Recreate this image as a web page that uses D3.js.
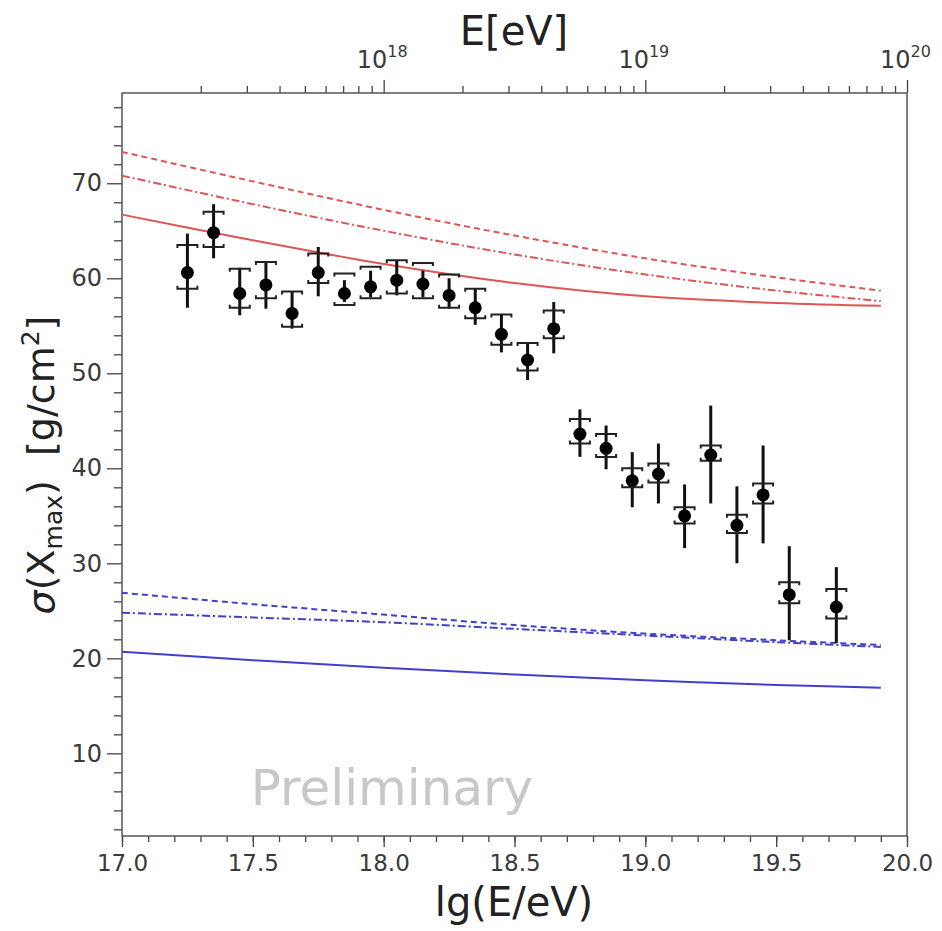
<!DOCTYPE html>
<html>
<head>
<meta charset="utf-8">
<script src="https://cdn.jsdelivr.net/npm/d3@7"></script>
<style>
  body { margin: 0; background: #fff; }
  text { font-family: "DejaVu Sans", sans-serif; }
  .tick text { fill: #3a3a3a; }
  .tick line { stroke: #444; stroke-width: 1.3; }
</style>
</head>
<body>
<div id="chart"></div>
<script>
// measured points: lg(E/eV), sigma, stat range, sys range
var lgE = [17.25, 17.35, 17.45, 17.55, 17.65, 17.75, 17.85, 17.95, 18.05, 18.15, 18.25, 18.35, 18.45,
  18.55, 18.65, 18.75, 18.85, 18.95, 19.05, 19.15, 19.25, 19.35, 19.45, 19.55, 19.73];
var sigma = [60.6, 64.8, 58.4, 59.3, 56.3, 60.6, 58.4, 59.1, 59.8, 59.4, 58.2, 56.9, 54.1,
  51.4, 54.7, 43.6, 42.1, 38.7, 39.4, 35.0, 41.4, 34.0, 37.2, 26.7, 25.4];
var statLo = [56.9, 62.1, 56.1, 56.8, 54.7, 58.1, 57.5, 58.0, 58.2, 58.0, 56.8, 55.1, 52.2,
  49.3, 52.1, 41.2, 39.9, 35.9, 36.3, 31.6, 36.3, 30.0, 32.1, 21.9, 21.6];
var statHi = [64.7, 67.8, 61.1, 61.7, 58.6, 63.3, 59.8, 60.8, 61.9, 60.8, 60.0, 58.9, 56.2,
  53.3, 57.5, 46.2, 44.5, 41.7, 42.6, 38.3, 46.6, 38.1, 42.4, 31.8, 29.6];
var sysLo = [58.9, 63.3, 56.9, 57.9, 54.9, 59.5, 57.2, 57.9, 58.4, 57.9, 56.9, 55.8, 53.0,
  50.3, 53.7, 42.6, 41.2, 38.0, 38.5, 34.2, 40.8, 33.2, 36.3, 25.8, 24.2];
var sysHi = [63.5, 67.0, 61.0, 61.7, 58.6, 62.6, 60.5, 61.2, 61.9, 61.6, 60.4, 58.9, 56.2,
  53.2, 56.6, 45.2, 43.6, 40.0, 40.5, 35.9, 42.4, 35.1, 38.4, 28.0, 27.3];

// model curves
var lgCurve = [17.0, 17.5, 18.0, 18.5, 19.0, 19.5, 19.9];
var protonSolid = [66.7, 64.0, 61.5, 59.5, 58.1, 57.4, 57.1];
var protonDashDot = [70.8, 67.8, 65.0, 62.5, 60.4, 58.7, 57.6];
var protonDashed = [73.3, 70.2, 67.2, 64.5, 62.1, 60.1, 58.7];
var ironSolid = [20.7, 19.8, 19.0, 18.3, 17.7, 17.2, 16.9];
var ironDashDot = [24.8, 24.3, 23.8, 23.1, 22.4, 21.7, 21.2];
var ironDashed = [26.9, 25.7, 24.6, 23.5, 22.6, 21.9, 21.4];

var xTicks = [17.0, 17.5, 18.0, 18.5, 19.0, 19.5, 20.0];
var yTicks = [10, 20, 30, 40, 50, 60, 70];
var eTicks = [1e18, 1e19, 1e20];
var eTickExp = ["18", "19", "20"];

var wide = 942;
var high = 931;
var plotLeft = 122, plotRight = 907, plotTop = 93, plotBottom = 836;

var svg = d3.select("#chart").append("svg")
  .attr("width", wide)
  .attr("height", high);

var xScale = d3.scaleLinear().domain([17, 20]).range([plotLeft, plotRight]);
var yScale = d3.scaleLinear().domain([1.3, 79.5]).range([plotBottom, plotTop]);
var eScale = d3.scaleLog().domain([1e17, 1e20]).range([plotLeft, plotRight]);

// bottom axis
var xMinor = d3.range(170, 201).map(function(d) { return d / 10; });
svg.append("g")
  .attr("transform", "translate(0," + plotBottom + ")")
  .call(d3.axisBottom(xScale).tickValues(xMinor).tickSize(6).tickFormat(""))
  .call(function(g) { g.select(".domain").remove(); });
svg.append("g")
  .attr("transform", "translate(0," + plotBottom + ")")
  .call(d3.axisBottom(xScale).tickValues(xTicks).tickSize(11).tickPadding(8).tickFormat(d3.format(".1f")))
  .call(function(g) {
    g.select(".domain").remove();
    g.selectAll("text").attr("font-size", 23);
  });

// left axis
var yMinor = d3.range(2, 80, 2).filter(function(d) { return d % 10 !== 0; });
svg.append("g")
  .attr("transform", "translate(" + plotLeft + ",0)")
  .call(d3.axisLeft(yScale).tickValues(yMinor).tickSize(8).tickFormat(""))
  .call(function(g) { g.select(".domain").remove(); });
svg.append("g")
  .attr("transform", "translate(" + plotLeft + ",0)")
  .call(d3.axisLeft(yScale).tickValues(yTicks).tickSize(15).tickPadding(5))
  .call(function(g) {
    g.select(".domain").remove();
    g.selectAll("text").attr("font-size", 24);
  });

// top axis (energy, log)
var eMinor = [];
[1e17, 1e18, 1e19].forEach(function(p) {
  for (var k = 2; k <= 9; k++) eMinor.push(k * p);
});
svg.append("g")
  .attr("transform", "translate(0," + plotTop + ")")
  .call(d3.axisTop(eScale).tickValues(eMinor).tickSize(7).tickFormat(""))
  .call(function(g) { g.select(".domain").remove(); });
var eAxis = svg.append("g")
  .attr("transform", "translate(0," + plotTop + ")")
  .call(d3.axisTop(eScale).tickValues(eTicks).tickSize(13).tickFormat(""))
  .call(function(g) { g.select(".domain").remove(); });
eAxis.selectAll(".tick").each(function(d, i) {
  var t = d3.select(this).append("text")
    .attr("x", -2)
    .attr("y", -25)
    .attr("text-anchor", "middle")
    .attr("font-size", 24)
    .attr("fill", "#3a3a3a");
  t.append("tspan").text("10");
  t.append("tspan").attr("dy", -11).attr("font-size", 16).text(eTickExp[i]);
});

// frame
svg.append("rect")
  .attr("x", plotLeft)
  .attr("y", plotTop)
  .attr("width", plotRight - plotLeft)
  .attr("height", plotBottom - plotTop)
  .attr("fill", "none")
  .attr("stroke", "#555")
  .attr("stroke-width", 1.5);

// model curves
var line = d3.line()
  .x(function(d) { return xScale(d[0]); })
  .y(function(d) { return yScale(d[1]); })
  .curve(d3.curveCatmullRom);

function drawCurve(vals, color, dash) {
  svg.append("path")
    .datum(lgCurve.map(function(x, i) { return [x, vals[i]]; }))
    .attr("d", line)
    .attr("fill", "none")
    .attr("stroke", color)
    .attr("stroke-width", 2)
    .attr("stroke-dasharray", dash);
}
var red = "#dd5555";
var blue = "#4040cc";
drawCurve(protonSolid, red, null);
drawCurve(protonDashDot, red, "8,3,2,3");
drawCurve(protonDashed, red, "6,4");
drawCurve(ironSolid, blue, null);
drawCurve(ironDashDot, blue, "8,3,2,3");
drawCurve(ironDashed, blue, "6,4");

// preliminary watermark
svg.append("text")
  .attr("x", 392)
  .attr("y", 805)
  .attr("text-anchor", "middle")
  .attr("font-size", 50)
  .attr("fill", "#c8c8c8")
  .text("Preliminary");

// data points
var pts = svg.append("g").selectAll("g").data(lgE).enter().append("g");

pts.append("line")
  .attr("x1", function(d) { return xScale(d); })
  .attr("x2", function(d) { return xScale(d); })
  .attr("y1", function(d, i) { return yScale(statLo[i]); })
  .attr("y2", function(d, i) { return yScale(statHi[i]); })
  .attr("stroke", "#111")
  .attr("stroke-width", 3);

pts.append("path")
  .attr("d", function(d, i) {
    var x = xScale(d), y = yScale(sysHi[i]);
    return "M" + (x - 10) + "," + (y + 3) + "V" + y + "H" + (x + 10) + "V" + (y + 3);
  })
  .attr("fill", "none")
  .attr("stroke", "#222")
  .attr("stroke-width", 2);

pts.append("path")
  .attr("d", function(d, i) {
    var x = xScale(d), y = yScale(sysLo[i]);
    return "M" + (x - 10) + "," + (y - 3) + "V" + y + "H" + (x + 10) + "V" + (y - 3);
  })
  .attr("fill", "none")
  .attr("stroke", "#222")
  .attr("stroke-width", 2);

pts.append("circle")
  .attr("cx", function(d) { return xScale(d); })
  .attr("cy", function(d, i) { return yScale(sigma[i]); })
  .attr("r", 6.5)
  .attr("fill", "#000");

// axis titles
svg.append("text")
  .attr("x", 514)
  .attr("y", 916)
  .attr("text-anchor", "middle")
  .attr("font-size", 40)
  .attr("fill", "#222")
  .text("lg(E/eV)");

svg.append("text")
  .attr("x", 514)
  .attr("y", 45)
  .attr("text-anchor", "middle")
  .attr("font-size", 40)
  .attr("fill", "#222")
  .text("E[eV]");

var yLab = svg.append("text")
  .attr("transform", "translate(54,465) rotate(-90)")
  .attr("text-anchor", "middle")
  .attr("font-size", 38)
  .attr("fill", "#222");
yLab.append("tspan").attr("font-style", "italic").text("σ");
yLab.append("tspan").text("(X");
yLab.append("tspan").attr("font-size", 25).attr("dy", 8).text("max");
yLab.append("tspan").attr("dy", -8).attr("xml:space", "preserve").text(")  [g/cm");
yLab.append("tspan").attr("font-size", 25).attr("dy", -15).text("2");
yLab.append("tspan").attr("dy", 15).text("]");
</script>
</body>
</html>
